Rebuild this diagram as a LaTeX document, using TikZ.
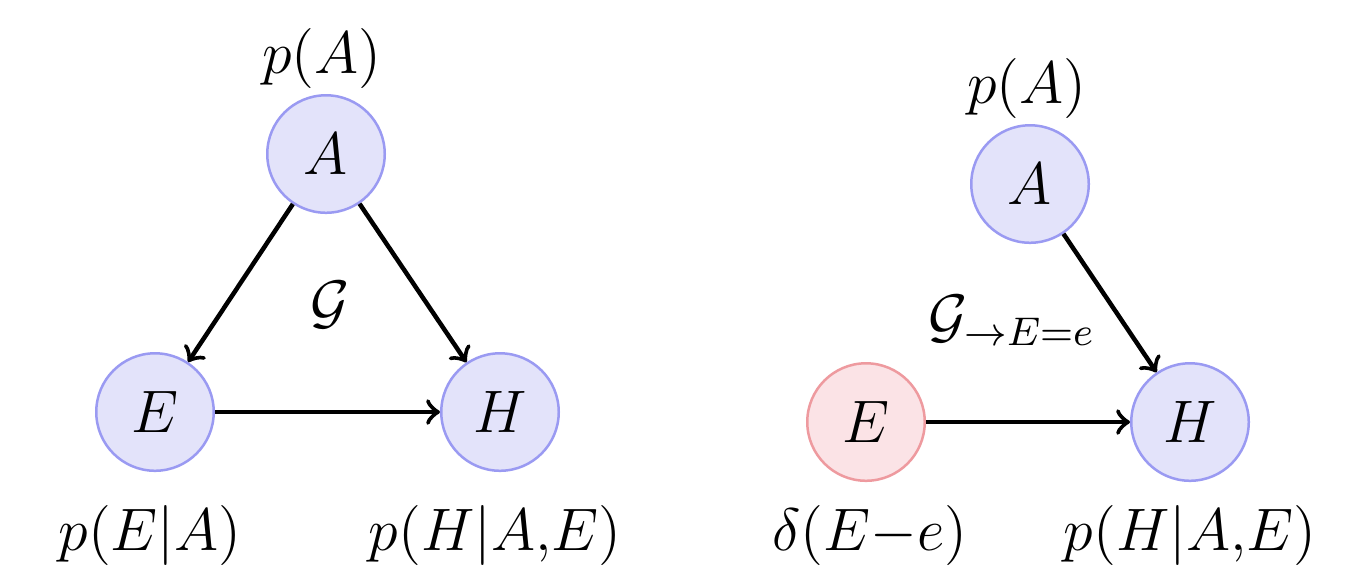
\documentclass[tikz,border=0pt]{standalone}
\usepackage{tikz}
\usetikzlibrary{arrows.meta}
\definecolor{varFill}{HTML}{E3E3FA}
\definecolor{varStroke}{HTML}{9A9AF2}
\definecolor{doFill}{HTML}{FBE3E6}
\definecolor{doStroke}{HTML}{EE9A9F}
\tikzset{
  bnet/.style = {
    font=\large,
    >=to,
  },
  var/.style = {
    circle, draw=varStroke, line width=0.5pt, fill=varFill,
    minimum size=23.5pt, inner sep=0pt,
  },
  dovar/.style = {
    var, draw=doStroke, fill=doFill,
  },
  arr/.style = {->, line width=0.9pt, black},
  lbl/.style = {inner sep=1pt},
}

\begin{document}
\begin{tikzpicture}[bnet, x=0.2pt, y=-0.2pt]
\useasboundingbox (0,0) rectangle (1358,566);

% observational graph
\node[var] (a)  at (326,154) {$A$};
\node[var] (e)  at (155,412) {$E$};
\node[var] (h)  at (500,412) {$H$};
\node[lbl] (pa) at (322,58)  {$p(A)$};
\node[lbl] (pe) at (150,535) {$p(E|A)$};
\node[lbl] (ph) at (495,535) {$p(H|A{,}E)$};
\node[lbl] (g)  at (330,305) {$\mathcal{G}$};

\draw[arr] (a) -- (e);
\draw[arr] (a) -- (h);
\draw[arr] (e) -- (h);

% intervened graph
\node[var]   (a2)  at (1030,184) {$A$};
\node[dovar] (e2)  at (866,422)  {$E$};
\node[var]   (h2)  at (1190,422) {$H$};
\node[lbl]   (pa2) at (1027,88)  {$p(A)$};
\node[lbl]   (pe2) at (870,535)  {$\delta(E{-}e)$};
\node[lbl]   (ph2) at (1190,535) {$p(H|A{,}E)$};
\node[lbl]   (g2)  at (1012,320) {$\mathcal{G}_{\to E=e}$};

\draw[arr] (a2) -- (h2);
\draw[arr] (e2) -- (h2);

\end{tikzpicture}
\end{document}
